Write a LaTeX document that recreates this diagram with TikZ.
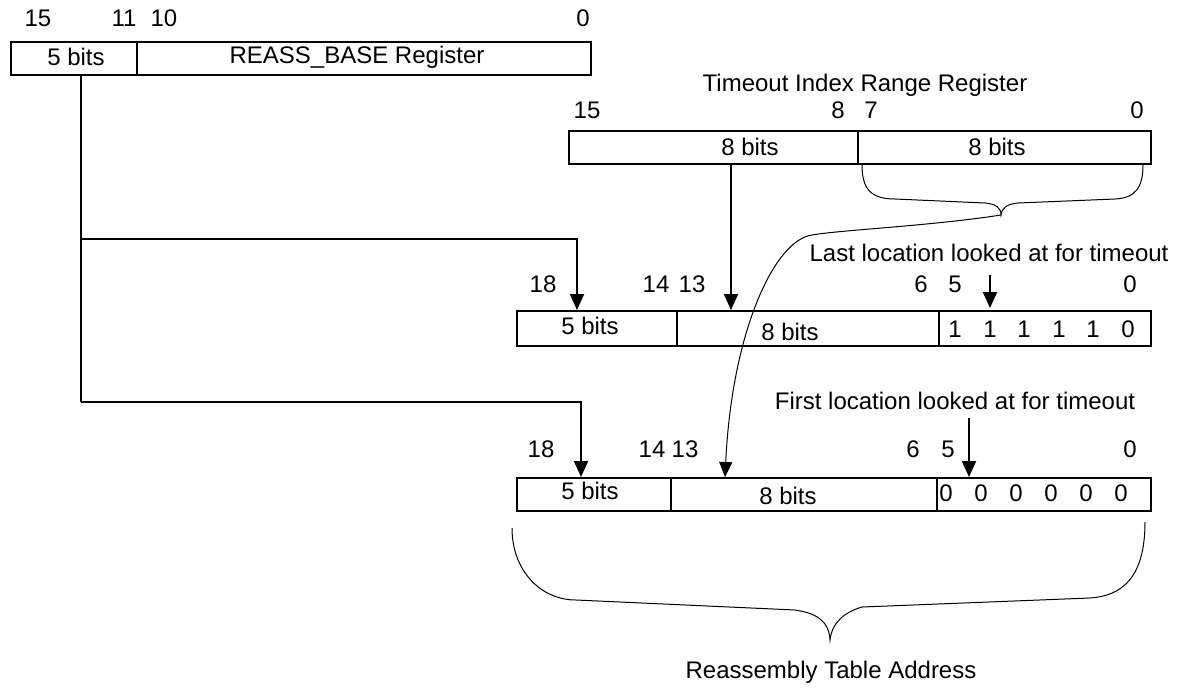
\documentclass[tikz,border=0pt]{standalone}
\usepackage{fontspec}
\setmainfont{Liberation Sans}
\usetikzlibrary{arrows.meta}
\begin{document}
\begin{tikzpicture}[x=1pt,y=-1pt,
  every node/.style={font=\fontsize{24}{28}\selectfont, inner sep=0pt},
  cell/.style={draw, line width=2pt, anchor=north west},
  conn/.style={line width=2pt},
  arr/.style={line width=2pt, -{Triangle[width=14pt,length=16pt]}},
  thin/.style={line width=1pt},
  thinarr/.style={line width=1pt, -{Triangle[width=13pt,length=15pt]}}]
\useasboundingbox (0,0) rectangle (1181,689);

% ---- REASS_BASE register
\node[cell, minimum width=126pt, minimum height=33pt] (r5) at (10,41) {};
\node[cell, minimum width=454pt, minimum height=33pt] (rb) at (136,41) {};
\node (r5t) at (76,57) {5 bits};
\node (rbt) at (357,57) {REASS\_BASE Register};
\node (rl15) at (38,18) {15};
\node (rl11) at (124,18) {11};
\node (rl10) at (164,18) {10};
\node (rl0) at (583,18) {0};

% ---- Timeout Index Range Register
\node (tt) at (865,85) {Timeout Index Range Register};
\node[cell, minimum width=289pt, minimum height=33pt] (th) at (568,130) {};
\node[cell, minimum width=293pt, minimum height=33pt] (tl) at (857,130) {};
\node (tht) at (750,147) {8 bits};
\node (tlt) at (997,147) {8 bits};
\node (tl15) at (587,110) {15};
\node (tl8) at (838,110) {8};
\node (tl7) at (871,110) {7};
\node (tl0) at (1137,110) {0};

% ---- Middle address (last location)
\node (lastt) at (989,253) {Last location looked at for timeout};
\node[cell, minimum width=160pt, minimum height=35pt] (m5) at (516,310) {};
\node[cell, minimum width=262pt, minimum height=35pt] (m8) at (676,310) {};
\node[cell, minimum width=212pt, minimum height=35pt] (m6) at (938,310) {};
\node (m5t) at (590,326) {5 bits};
\node (m8t) at (790,332) {8 bits};
\node (mb5) at (955,329) {1};
\node (mb4) at (990,329) {1};
\node (mb3) at (1024,329) {1};
\node (mb2) at (1059,329) {1};
\node (mb1) at (1093,329) {1};
\node (mb0) at (1128,329) {0};
\node (ml18) at (543,284) {18};
\node (ml14) at (656,284) {14};
\node (ml13) at (692,284) {13};
\node (ml6) at (921,284) {6};
\node (ml5) at (955,284) {5};
\node (ml0) at (1130,284) {0};

% ---- Bottom address (first location)
\node (firstt) at (955,401) {First location looked at for timeout};
\node[cell, minimum width=154pt, minimum height=33pt] (b5) at (516,477) {};
\node[cell, minimum width=266pt, minimum height=33pt] (b8) at (670,477) {};
\node[cell, minimum width=214pt, minimum height=33pt] (b6) at (936,477) {};
\node (b5t) at (590,491) {5 bits};
\node (b8t) at (788,496) {8 bits};
\node (bb5) at (946,493) {0};
\node (bb4) at (981,493) {0};
\node (bb3) at (1016,493) {0};
\node (bb2) at (1051,493) {0};
\node (bb1) at (1086,493) {0};
\node (bb0) at (1121,493) {0};
\node (bl18) at (541,449) {18};
\node (bl14) at (652,449) {14};
\node (bl13) at (685,449) {13};
\node (bl6) at (913,449) {6};
\node (bl5) at (948,449) {5};
\node (bl0) at (1130,449) {0};

\node (rta) at (831,672) {Reassembly Table Address};

% ---- connector coordinates
\coordinate (s) at (81,74);
\coordinate (j1) at (81,239);
\coordinate (j2) at (81,402);
\coordinate (m5in) at (577,310);
\coordinate (b5in) at (581,477);
\coordinate (thout) at (731,163);
\coordinate (m8in) at (731,310);
\coordinate (lastfrom) at (990,275);
\coordinate (lastin) at (990,308);
\coordinate (firstfrom) at (969,418);
\coordinate (firstin) at (969,477);
\coordinate (btip) at (1001,215);
\coordinate (b8in) at (725,477);

% ---- connectors
\draw[conn] (s) -- (j2);
\draw[arr] (j1) -| (m5in);
\draw[arr] (j2) -| (b5in);
\draw[arr] (thout) -- (m8in);
\draw[arr] (lastfrom) -- (lastin);
\draw[arr] (firstfrom) -- (firstin);

% brace under low byte of timeout register
\draw[thin] (862,165) .. controls (862,190) and (872,199) .. (895,199)
  -- (985,203) .. controls (995,204) and (1001,207) .. (btip)
  .. controls (1002,207) and (1008,204) .. (1018,203)
  -- (1115,199) .. controls (1135,198) and (1143,188) .. (1143,165);

% curved connector from brace to bottom 8 bits
\draw[thinarr] (btip) .. controls (930,226) and (840,230) .. (812,235)
  .. controls (775,240) and (732,330) .. (b8in);

% big brace
\draw[thin] (512,528) .. controls (512,570) and (540,600) .. (576,600)
  -- (795,610) .. controls (815,613) and (829,620) .. (830,640)
  .. controls (832,622) and (845,612) .. (862,607)
  -- (1090,598) .. controls (1120,596) and (1145,580) .. (1145,522);
\end{tikzpicture}
\end{document}
